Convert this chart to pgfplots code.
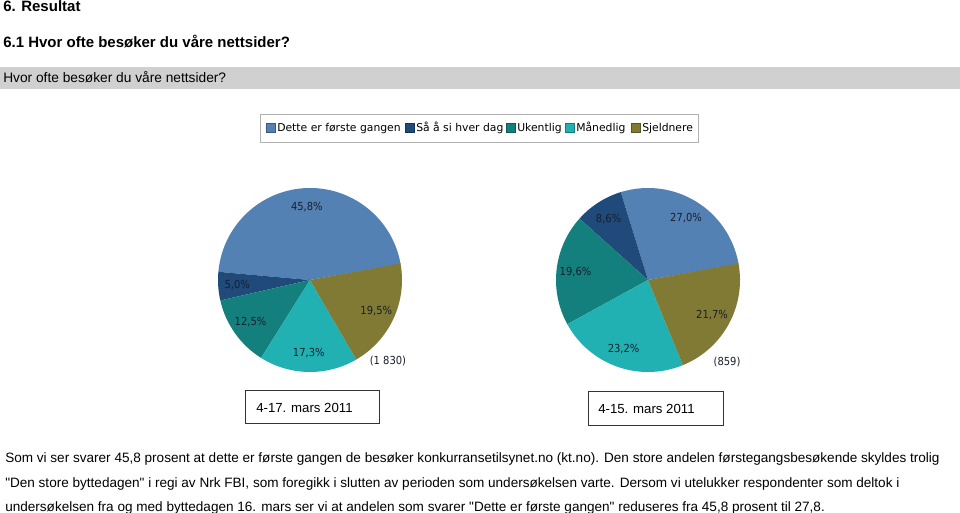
\documentclass[border=0pt]{standalone}
\usepackage{fontspec}
\setmainfont{Liberation Sans}
\newfontfamily\bodyfamily{Liberation Sans}
\newfontfamily\lblfamily[FakeStretch=0.9]{DejaVu Sans}
\newfontfamily\legfamily{DejaVu Sans}
\usepackage{pgfplots}
\pgfplotsset{compat=1.18}
\usepackage{pgfplotstable}
\usetikzlibrary{calc}

\definecolor{pc0}{RGB}{84,129,180}
\definecolor{pc1}{RGB}{31,74,122}
\definecolor{pc2}{RGB}{20,128,125}
\definecolor{pc3}{RGB}{34,177,178}
\definecolor{pc4}{RGB}{128,122,52}
\definecolor{pctext}{RGB}{25,30,45}
\definecolor{barbg}{RGB}{208,208,208}

\pgfplotstableread{
slice pieA pieB
0 45.8 27.0
1 5.0 8.6
2 12.5 19.6
3 17.3 23.2
4 19.5 21.7
}\piedata

\newcommand\lblfont{\lblfamily\fontsize{8.3}{9}\selectfont}
\newcommand\bodyfont{\bodyfamily\fontsize{10.17}{12}\selectfont}

% #1 column, #2 cx, #3 cy (pixel coordinates)
\newcommand\drawpie[3]{%
  \def\cumangle{10}%
  \pgfplotsforeachungrouped \i in {0,...,4}{%
    \pgfplotstablegetelem{\i}{#1}\of\piedata
    \let\val\pgfplotsretval
    \pgfmathsetmacro\aS{\cumangle}%
    \pgfmathsetmacro\aE{\cumangle+3.6*\val}%
    \pgfmathsetmacro\aM{(\aS+\aE)/2}%
    \edef\temp{\noexpand\fill[pc\i] (axis cs:#2,#3) -- ++(\aS:69pt) arc[start angle=\aS, end angle=\aE, radius=69pt] -- cycle;
      \noexpand\node[font=\noexpand\lblfont, text=pctext] at ($(axis cs:#2,#3)+(\aM:54.75pt)$) {\noexpand\pgfmathprintnumber[fixed,fixed zerofill,precision=1,use comma,assume math mode=true]{\val}\noexpand\%};}%
    \temp
    \let\cumangle\aE
  }%
}

\begin{document}
\begin{tikzpicture}
\begin{axis}[
  scale only axis, width=720pt, height=384.75pt,
  xmin=0, xmax=960, ymin=0, ymax=513, y dir=reverse,
  hide axis, clip=false]

% grey question bar
\fill[barbg] (axis cs:0,67) rectangle (axis cs:960,89);

% pies
\drawpie{pieA}{310}{280}
\drawpie{pieB}{648}{280}

% n labels
\node[font=\lblfont, text=pctext] at (axis cs:388,361) {(1 830)};
\node[font=\lblfont, text=pctext] at (axis cs:727,362) {(859)};

% legend
\draw[gray!60, fill=white] (axis cs:260,114) rectangle (axis cs:698,142);
\foreach \xs/\c/\t in {266/pc0/{Dette er første gangen},405/pc1/{Så å si hver dag},506/pc2/{Ukentlig},565/pc3/{Månedlig},631/pc4/{Sjeldnere}}{
  \edef\temp{\noexpand\fill[\c, draw=\c!70!black] (axis cs:\xs,123) rectangle (axis cs:\xs+9,132);
  \noexpand\node[anchor=base west, inner sep=0pt, font=\noexpand\legfamily\noexpand\fontsize{8.1}{9}\noexpand\selectfont, text=black] at (axis cs:\xs+11,132) {\t};}
  \temp
}

% date boxes
\draw[black!80] (axis cs:245,390) rectangle (axis cs:379,423);
\node[anchor=base west, inner sep=0pt, font=\fontsize{9.9}{11}\selectfont] at (axis cs:256,412) {4-17. mars 2011};
\draw[black!80] (axis cs:588,391) rectangle (axis cs:723,425);
\node[anchor=base west, inner sep=0pt, font=\fontsize{9.9}{11}\selectfont] at (axis cs:598,413) {4-15. mars 2011};

% headings
\node[anchor=base west, inner sep=0pt, font=\fontsize{11.25}{13}\selectfont\bfseries] at (axis cs:3,12) {6. Resultat};
\node[anchor=base west, inner sep=0pt, font=\fontsize{11.25}{13}\selectfont\bfseries] at (axis cs:3,48) {6.1 Hvor ofte besøker du våre nettsider?};
\node[anchor=base west, inner sep=0pt, font=\fontsize{10.3}{12}\selectfont] at (axis cs:3,83) {Hvor ofte besøker du våre nettsider?};

% body text
\node[anchor=base west, inner sep=0pt, font=\bodyfont] at (axis cs:5,462) {Som vi ser svarer 45,8 prosent at dette er første gangen de besøker konkurransetilsynet.no (kt.no). Den store andelen førstegangsbesøkende skyldes trolig};
\node[anchor=base west, inner sep=0pt, font=\bodyfont] at (axis cs:5,487) {"Den store byttedagen" i regi av Nrk FBI, som foregikk i slutten av perioden som undersøkelsen varte. Dersom vi utelukker respondenter som deltok i};
\node[anchor=base west, inner sep=0pt, font=\bodyfont] at (axis cs:5,511) {undersøkelsen fra og med byttedagen 16. mars ser vi at andelen som svarer "Dette er første gangen" reduseres fra 45,8 prosent til 27,8.};
\end{axis}
\pgfresetboundingbox
\path (0,0) rectangle (720pt,384.75pt);
\end{tikzpicture}
\end{document}
